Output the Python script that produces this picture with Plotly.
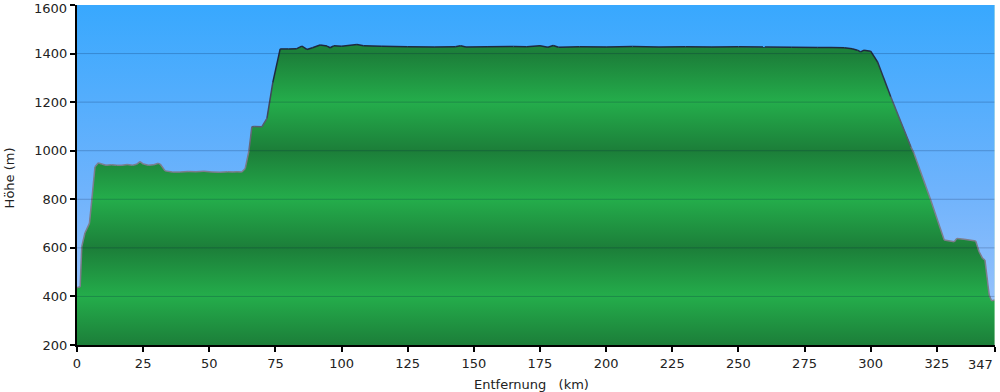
import plotly.graph_objects as go

# ---- data ----
km = [0, 0.5, 1.2, 1.8, 3.0, 4.7, 5.6, 6.8, 8.1, 9.3, 11, 13, 15, 17, 19, 21, 22.5,
      23.8, 25.1, 27, 29, 30.8, 31.5, 33.3, 36, 39, 42, 45, 48, 51, 54, 57, 59, 60.5,
      62.3, 63.6, 65, 66.1, 67, 69.9, 71.8, 74, 76.8, 80, 83.1, 85, 86.9, 89, 91.9,
      94.5, 95.7, 97, 100, 105.8, 108.3, 115, 125, 135, 143, 145, 147, 155, 165, 170,
      175, 178, 180, 182, 190, 200, 210, 220, 230, 240, 250, 260, 270, 280, 285, 290,
      293, 295, 296.2, 297.5, 300, 302.6, 307.6, 315.2, 316.4, 322.7, 327.8, 331.6,
      332.6, 335.3, 339.7, 341, 342.3, 343.2, 344.8, 345.7, 347]
elev = [435, 438, 440, 605, 661, 701, 797, 934, 950, 945, 940, 942, 940, 940, 943, 940, 944,
        955, 945, 940, 942, 948, 944, 917, 912, 912, 914, 913, 915, 912, 911, 913, 912, 913,
        912, 927, 1000, 1099, 1100, 1099, 1133, 1280, 1419, 1419, 1420, 1431, 1417, 1424, 1435,
        1431, 1424, 1432, 1430, 1437, 1432, 1430, 1428, 1427, 1428, 1432, 1427, 1428, 1429, 1428,
        1432, 1426, 1433, 1426, 1428, 1427, 1429, 1427, 1428, 1427, 1428, 1427, 1426, 1425, 1425, 1424,
        1420, 1414, 1407, 1414, 1410, 1366, 1222, 1016, 989, 797, 632, 625,
        639, 635, 628, 584, 557, 550, 406, 382, 385]

x_ticks = [0, 25, 50, 75, 100, 125, 150, 175, 200, 225, 250, 275, 300, 325, 347]
y_ticks = [200, 400, 600, 800, 1000, 1200, 1400, 1600]
x_range = [0, 347]
y_range = [200, 1600]
x_title = "Entfernung\u00a0\u00a0\u00a0(km)"
y_title = "Höhe (m)"

FONT = "DejaVu Sans, Verdana, sans-serif"
TXT = "#222222"

fig = go.Figure()

# sky background (vertical gradient)
fig.add_trace(go.Scatter(
    x=[x_range[0], x_range[1], x_range[1], x_range[0], x_range[0]],
    y=[y_range[0], y_range[0], y_range[1], y_range[1], y_range[0]],
    mode="lines", line=dict(width=0), fill="toself",
    fillgradient=dict(type="vertical", start=y_range[0], stop=y_range[1],
                      colorscale=[[0, "#a4c6fb"], [0.45, "#6fb3fc"], [1, "#38a8fe"]]),
    hoverinfo="skip", showlegend=False))

# green banded fill
dark = "#1c7e39"
light = "#24ad4b"
bands = []
span = y_range[1] - y_range[0]
for h in range(200, 1601, 200):
    bands.append([(h - y_range[0]) / span, dark if (h // 200) % 2 == 1 else light])
fig.add_trace(go.Scatter(
    x=km, y=elev, mode="lines", line=dict(width=0), fill="tozeroy",
    fillgradient=dict(type="vertical", start=y_range[0], stop=y_range[1], colorscale=bands),
    hoverinfo="skip", showlegend=False))

# outline, coloured by elevation (dark high, grey low)
def outline_color(h):
    t = min(1, max(0, (h - 950) / 400))
    c0 = (125, 125, 140)
    c1 = (30, 40, 62)
    return "rgb(%d,%d,%d)" % tuple(round(a + (b - a) * t) for a, b in zip(c0, c1))

for i in range(len(km) - 1):
    fig.add_trace(go.Scatter(
        x=km[i:i + 2], y=elev[i:i + 2], mode="lines",
        line=dict(color=outline_color((elev[i] + elev[i + 1]) / 2), width=1.5),
        hoverinfo="skip", showlegend=False))

# grid lines on top of the fills
for h in y_ticks[1:-1]:
    fig.add_shape(type="line", xref="paper", x0=0, x1=1, yref="y", y0=h, y1=h,
                  line=dict(color="rgba(0,20,60,0.22)", width=1), layer="above")
fig.add_shape(type="line", xref="x", x0=x_range[1], x1=x_range[1], yref="paper", y0=0, y1=1,
              line=dict(color="#d6eed6", width=1), layer="above")

axis_common = dict(showline=True, linecolor="black", linewidth=2, ticks="outside",
                   tickcolor="black", ticklen=5, tickwidth=2, showgrid=False, zeroline=False,
                   automargin=False, tickfont=dict(family=FONT, size=13, color=TXT))
# the last tick label of each axis would overflow the page; it is placed as an annotation below
fig.update_xaxes(range=x_range, tickvals=x_ticks,
                 ticktext=[str(v) for v in x_ticks[:-1]] + [""], **axis_common)
fig.update_yaxes(range=y_range, tickvals=y_ticks,
                 ticktext=[str(v) for v in y_ticks[:-1]] + [""], **axis_common)

fig.add_annotation(text=str(x_ticks[-1]), xref="x", yref="paper", x=x_ticks[-1], y=0,
                   xanchor="right", yanchor="top", xshift=0, yshift=-10, showarrow=False,
                   font=dict(family=FONT, size=13, color=TXT))
fig.add_annotation(text=str(y_ticks[-1]), xref="paper", yref="y", x=0, y=y_ticks[-1],
                   xanchor="right", yanchor="middle", xshift=-8, yshift=-3, showarrow=False,
                   font=dict(family=FONT, size=13, color=TXT))

fig.add_annotation(text=x_title, xref="paper", yref="paper", x=0.5, y=0, xshift=-5, yshift=-39,
                   xanchor="center", yanchor="middle", showarrow=False,
                   font=dict(family=FONT, size=13, color=TXT))
fig.add_annotation(text=y_title, xref="paper", yref="paper", x=0, xshift=-68, y=0.49,
                   xanchor="center", yanchor="middle", textangle=-90, showarrow=False,
                   font=dict(family=FONT, size=13, color=TXT))

fig.update_layout(width=1000, height=392, margin=dict(l=77, r=5, t=5, b=47),
                  paper_bgcolor="white", plot_bgcolor="white", showlegend=False,
                  hovermode=False)

fig.write_html("out.html", config={"displayModeBar": False},
               post_script="document.body.style.margin='0';document.body.style.overflow='hidden';")
